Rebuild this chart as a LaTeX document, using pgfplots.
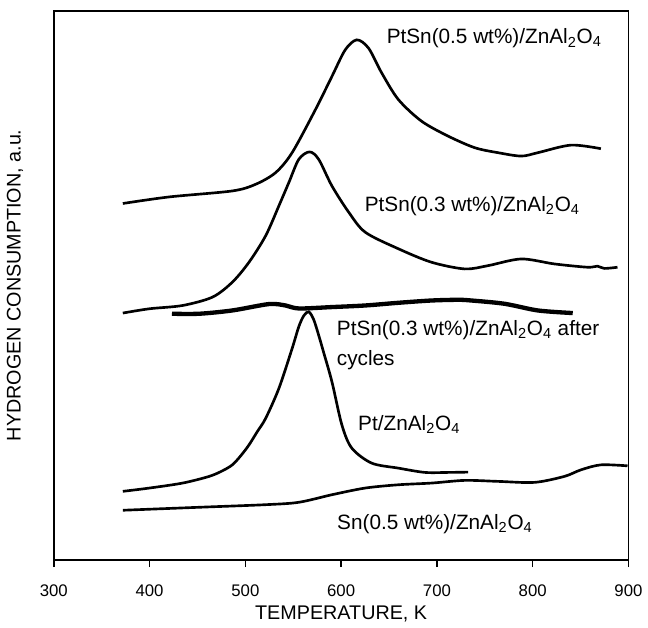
\documentclass[border=0pt]{standalone}
\usepackage{fontspec}
\setmainfont{Liberation Sans}
\usepackage{pgfplots}
\pgfplotsset{compat=1.18}

\newcommand{\zao}{ZnAl\textsubscript{2}O\textsubscript{4}}

\begin{document}
\begin{tikzpicture}
\begin{axis}[
  scale only axis, width=346.2pt, height=330.6pt,
  xmin=300, xmax=900, ymin=0, ymax=551,
  xtick={300,400,...,900}, ytick=\empty,
  tick align=outside, xtick pos=bottom, major tick length=4.5pt,
  axis line style={line width=0.9pt, black},
  every tick/.style={line width=0.9pt, black},
  /pgf/number format/assume math mode=true,
  tick label style={font=\fontsize{10.1}{12}\selectfont},
  xticklabel shift=7.2pt,
  label style={font=\fontsize{11.9}{14}\selectfont},
  xlabel={TEMPERATURE, K},
  ylabel={HYDROGEN CONSUMPTION, a.u.},
  xlabel style={at={(axis description cs:0.5,-0.099)}, anchor=center},
  ylabel style={at={(axis description cs:-0.0676,0.5)}, anchor=center},
  every axis plot/.append style={line width=1.6pt, smooth, no markers},
  clip=false,
]
% PtSn(0.5 wt%)
\addplot[black] coordinates {(372.1,357.7) (420.6,364.3) (486.4,370.3) (510.8,377) (531.6,388.7)
  (548.8,408.7) (573.2,452) (590.4,485.3) (604.3,512) (616.4,522)
  (628.6,513.7) (642.4,488.7) (659.8,462) (684.0,440.3) (711.8,425.3) (739.5,413.7)
  (763.8,408.7) (788.0,405.3) (805.4,408.7) (840.0,416.3) (871.2,412.7)};
% PtSn(0.3 wt%)
\addplot[black] coordinates {(372.1,247.7) (399.8,252) (434.5,255.3) (465.7,263.7) (486.4,278.7)
  (503.8,298.7) (521.2,325.3) (535.0,355.3) (545.4,378.7) (555.8,402) (567,409.5)
  (576.6,402) (590.4,375.3) (608.1,348.7) (625.4,328.7) (660.3,312) (694.4,298.7)
  (729.1,292) (753.4,295.3) (788.0,302) (822.7,297) (857.3,293.7) (867.7,294.8)
  (874.7,292.5) (888.5,293.7)};
% after cycles
\addplot[black, line width=2.6pt] coordinates {(423.4,247) (451.8,247) (486.4,250.3) (524.6,256.7)
  (542.0,255.3) (555.8,252.3) (590.4,253.7) (625.1,255.3) (659.8,258) (694.4,260.3)
  (722.2,261) (736.0,260.3) (770.7,257) (805.4,250.3) (841.8,247.7)};
% Pt
\addplot[black] coordinates {(372.1,68.7) (399.8,72) (434.5,77) (462.2,83.7) (476.0,89.3)
  (486.4,95.3) (495.1,104.3) (503.8,115.3) (512.5,128.7) (521.2,142) (535.0,172)
  (548.8,212) (555.8,234) (561,245) (566.2,249)
  (571.4,241) (576.6,225.3) (581.8,208) (590.4,178.7) (600.8,135.3) (611.2,112)
  (632.0,97) (659.8,92) (687.5,87.7) (711.8,87.7) (732.6,88)};
% Sn(0.5 wt%)
\addplot[black] coordinates {(372.1,49.7) (451.8,52.7) (521.2,55.3) (555.8,57.7) (590.4,65.3)
  (625.1,72) (659.8,75.3) (694.4,77) (729.1,79.7) (763.8,78.7) (801.9,77.7)
  (833.1,83.7) (850.4,90.3) (871.2,95.3) (899.0,94.3)};

\begin{scope}[every node/.style={anchor=base west, inner sep=0pt, font=\fontsize{12.5}{15}\selectfont}]
\node at (axis cs:647.3,518) {PtSn(0.5 wt\%)/\zao};
\node at (axis cs:624.4,350) {PtSn(0.3 wt\%)/\zao};
\node at (axis cs:595.3,225) {PtSn(0.3 wt\%)/\zao{} after};
\node at (axis cs:595.3,195.3) {cycles};
\node at (axis cs:617.5,129.7) {Pt/\zao};
\node at (axis cs:595.6,30.3) {Sn(0.5 wt\%)/\zao};
\end{scope}
\end{axis}
\path ([xshift=-32.4pt, yshift=-39.6pt]current axis.south west)
      ([xshift=10.2pt, yshift=6.6pt]current axis.north east);
\end{tikzpicture}
\end{document}
